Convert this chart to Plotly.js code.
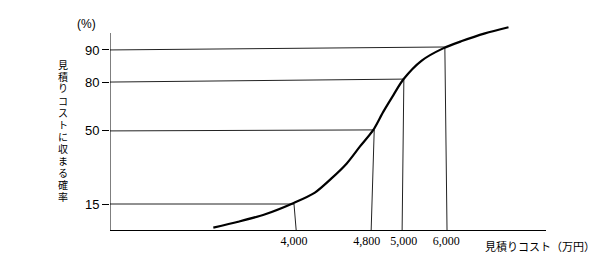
<!DOCTYPE html>
<html>
<head>
<meta charset="utf-8">
<script src="https://cdn.plot.ly/plotly-3.0.1.min.js"></script>
<style>html,body{margin:0;padding:0;background:#fff;}#chart{width:616px;height:268px;}</style>
</head>
<body>
<div id="chart"></div>
<script>
// Schematic S-curve (positions along each axis, 0-100 of axis length)
const curveX = [23.7, 29.4, 35.6, 42.0, 47.0, 50.8, 54.3, 57.3, 60.4, 62.7, 65.0, 67.3, 71.5, 76.4, 80.7, 86.0, 91.4];
const curveY = [1.2, 4.2, 8.0, 13.6, 19.0, 26.2, 33.8, 42.3, 50.8, 60.1, 68.5, 76.5, 86.0, 92.2, 95.9, 99.8, 102.9];

// Cost ticks
const costLabels = ['4,000', '4,800', '5,000', '6,000'];
const costLabelPos = [42.2, 58.9, 67.4, 77.1];
const costFootPos = [42.7, 59.9, 67.0, 77.3];

// Probability ticks
const probLabels = ['15', '50', '80', '90'];
const probTickPos = [13.2, 50.3, 75.1, 91.4];

// Points on the curve where the guides meet
const anchorX = [42.2, 60.6, 67.4, 76.8];
const anchorY = [13.2, 50.8, 76.6, 92.9];

const yTitle = '見積りコストに収まる確率';
const xTitle = '見積りコスト（万円）';
const yUnit = '(%)';

// guide lines
const gx = [], gy = [];
for (let i = 0; i < anchorX.length; i++) {
  gx.push(0, anchorX[i], costFootPos[i], null);
  gy.push(probTickPos[i], anchorY[i], 0, null);
}

const traces = [
  {x: gx, y: gy, mode: 'lines', line: {color: '#222', width: 1}, hoverinfo: 'skip'},
  {x: curveX, y: curveY, mode: 'lines', line: {color: '#000', width: 2.2, shape: 'spline', smoothing: 0.8}, hoverinfo: 'skip'}
];

const plotTopPx = 20, plotBotPx = 230, plotH = plotBotPx - plotTopPx;
const annotations = [
  {text: xTitle, xref: 'paper', yref: 'paper', x: 0.987, y: 0, yshift: -16, xanchor: 'center', yanchor: 'middle', showarrow: false,
   font: {family: 'Noto Sans CJK JP', size: 11, color: '#000'}},
  {text: yUnit, xref: 'paper', yref: 'paper', x: -0.055, y: (plotBotPx - 24) / plotH, xanchor: 'center', yanchor: 'middle', showarrow: false,
   font: {family: 'Liberation Sans', size: 12, color: '#000'}}
];
Array.from(yTitle).forEach((ch, i) => {
  annotations.push({text: ch, xref: 'paper', yref: 'paper', x: -0.108, y: (plotBotPx - (64 + 12 * i)) / plotH,
    xanchor: 'center', yanchor: 'middle', showarrow: false,
    font: {family: 'Noto Sans CJK JP', size: 10, color: '#000'}});
});

const layout = {
  width: 616, height: 268,
  margin: {l: 110, r: 70, t: plotTopPx, b: 268 - plotBotPx, pad: 0},
  paper_bgcolor: '#fff', plot_bgcolor: '#fff',
  showlegend: false,
  xaxis: {range: [0, 100], showgrid: false, zeroline: false, showline: true, linecolor: '#000', linewidth: 1,
    tickvals: costLabelPos, ticktext: costLabels, ticks: '',
    tickfont: {family: 'Liberation Serif', size: 12, color: '#000'}, fixedrange: true},
  yaxis: {range: [0, plotH / 1.97], showgrid: false, zeroline: false, showline: false,
    tickvals: probTickPos, ticktext: probLabels, ticks: 'outside', ticklen: 7, tickcolor: '#000', tickwidth: 1,
    tickfont: {family: 'Liberation Sans', size: 13, color: '#000'}, fixedrange: true},
  shapes: [
    {type: 'line', xref: 'x', yref: 'y', x0: 0, x1: 0, y0: 0, y1: 100, line: {color: '#000', width: 1}}
  ],
  annotations: annotations
};

Plotly.newPlot('chart', traces, layout, {displayModeBar: false, staticPlot: true});
</script>
</body>
</html>
